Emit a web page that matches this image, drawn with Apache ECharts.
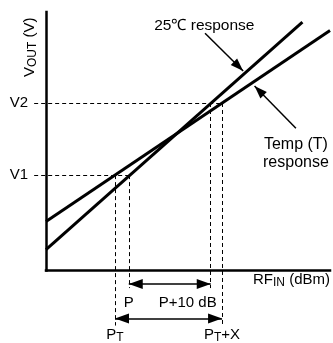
<!DOCTYPE html>
<html><head><meta charset="utf-8">
<script src="https://cdn.jsdelivr.net/npm/echarts@6/dist/echarts.min.js"></script>
<style>html,body{margin:0;padding:0;background:#fff}#c{width:333px;height:343px}</style>
</head><body><div id="c"></div>
<script>
// ---- data (axis units: RF_IN in dB, VOUT arbitrary 0..100) ----
const xRange = [0, 35];
const yRange = [0, 100];
const resp25C = [[0, 8.1], [31.6, 96.1]];
const respTemp = [[0, 19.0], [35, 92.8]];
const levelNames = ['V1', 'V2'];
const levelValues = [36.9, 64.8];
const levelEnds = [10.2, 21.7];
const guideStartX = -1.46;
const powerNames = ['P_{T}', 'P', '', 'P_{T}+X'];
const powerValues = [8.5, 10.2, 20.3, 21.7];
const powerTops = [36.9, 36.9, 64.8, 64.8];
const powerBottoms = [-21.3, -6.8, -6.8, -21.3];
const spanNames = ['P+10 dB', ''];
const spanFrom = [10.2, 8.5];
const spanTo = [20.3, 21.7];
const spanY = [-5.2, -18.6];
const calloutNames = ['25\u2103 response', 'Temp (T)\nresponse'];
const calloutFrom = [[19.6, 91.8], [30.8, 55.0]];
const calloutTo = [[24.3, 77.2], [25.7, 71.4]];
const xName = 'RF_{IN} (dBm)';
const yName = 'V_{OUT} (V)';

// ---- styling ----
const F = 'Liberation Sans, Arial, sans-serif';
const K = '#000';
const richStyles = {
  n: { fontSize: 15, lineHeight: 16, fontFamily: F, color: K },
  s: { fontSize: 12, lineHeight: 16, padding: [6, 0, 0, 0], fontFamily: F, color: K }
};
function rich(s) { return '{n|' + s.replace(/_\{([^}]*)\}/g, '}{s|$1}{n|') + '}'; }
const head = 'path://M5,14 L10,28 L0,28 Z M5,0';

const axisLine = { show: true, onZero: false, lineStyle: { color: K, width: 2.5, cap: 'square' } };

const series = [
  { type: 'line', data: resp25C, symbol: 'none', showSymbol: false, silent: true,
    lineStyle: { width: 3, color: K } },
  { type: 'line', data: respTemp, symbol: 'none', showSymbol: false, silent: true,
    lineStyle: { width: 3, color: K } },
  { type: 'lines', coordinateSystem: 'cartesian2d', clip: false, symbol: 'none', silent: true,
    lineStyle: { color: K, width: 1, type: [4, 3], opacity: 1 },
    label: { show: true, position: 'start', distance: [6, 0], fontSize: 15, fontFamily: F, color: K,
      formatter: p => p.name },
    data: levelNames.map((n, i) => ({ name: n,
      coords: [[guideStartX, levelValues[i]], [levelEnds[i], levelValues[i]]] })) },
  { type: 'lines', coordinateSystem: 'cartesian2d', clip: false, symbol: 'none', silent: true,
    lineStyle: { color: K, width: 1, type: [4, 3], opacity: 1 },
    label: { show: true, position: 'end', color: K, rich: richStyles,
      formatter: p => rich(p.name) },
    data: powerNames.map((n, i) => ({ name: n,
      coords: [[powerValues[i], powerTops[i]], [powerValues[i], powerBottoms[i]]],
      label: { show: n !== '', distance: [0, n.indexOf('_') >= 0 ? 1 : 6.5] } })) },
  { type: 'lines', coordinateSystem: 'cartesian2d', clip: false, silent: true,
    symbol: [head, head], symbolSize: [[10, 28], [10, 28]],
    lineStyle: { color: K, width: 1.5, opacity: 1 },
    label: { show: true, position: 'insideEndBottom', distance: [-6, 10.5],
      fontSize: 15, lineHeight: 16, fontFamily: F, color: K, formatter: p => p.name },
    data: spanNames.map((n, i) => ({ name: n,
      coords: [[spanFrom[i], spanY[i]], [spanTo[i], spanY[i]]],
      label: { show: n !== '' } })) },
  { type: 'lines', coordinateSystem: 'cartesian2d', clip: false, silent: true,
    symbol: ['none', head], symbolSize: [[9, 26], [9, 26]],
    lineStyle: { color: K, width: 1.5, opacity: 1 },
    label: { show: true, position: 'start', lineHeight: 18, fontFamily: F, color: K,
      formatter: p => p.name },
    data: calloutNames.map((n, i) => ({ name: n, coords: [calloutFrom[i], calloutTo[i]],
      label: i === 0 ? { distance: [1, 10.4], fontSize: 15.5 } : { distance: [0, 35], fontSize: 16 } })) }
];

const chart = echarts.init(document.getElementById('c'), null, { renderer: 'canvas' });
chart.setOption({
  animation: false,
  backgroundColor: '#fff',
  grid: { left: 46, right: 0, top: 12, bottom: 72.5 },
  xAxis: { type: 'value', min: xRange[0], max: xRange[1], axisLine: axisLine,
    axisTick: { show: false }, axisLabel: { show: false }, splitLine: { show: false },
    name: rich(xName), nameLocation: 'end', nameGap: 0,
    nameTextStyle: { align: 'right', verticalAlign: 'top', padding: [1.5, 0, 0, 0], rich: richStyles } },
  yAxis: { type: 'value', min: yRange[0], max: yRange[1], axisLine: axisLine,
    axisTick: { show: false }, axisLabel: { show: false }, splitLine: { show: false },
    name: rich(yName), nameLocation: 'end', nameGap: -65, nameRotate: 90,
    nameTextStyle: { align: 'left', verticalAlign: 'middle', padding: [0, 0, 32, 0], rich: richStyles } },
  series: series
});
</script></body></html>
